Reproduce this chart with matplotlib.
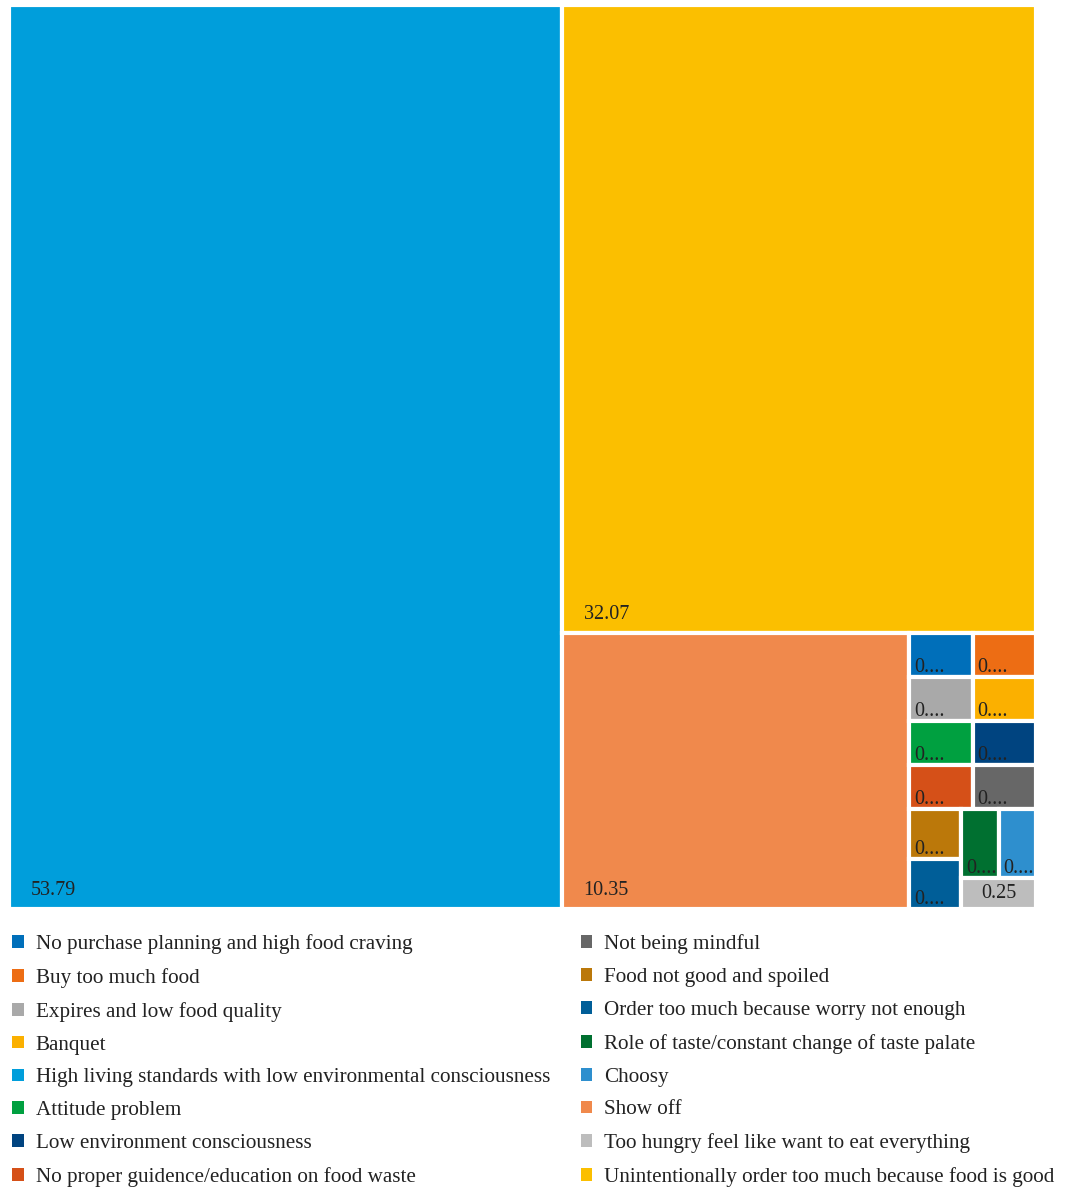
import matplotlib.pyplot as plt
from matplotlib.patches import Rectangle, Patch

categories = [
    'No purchase planning and high food craving',
    'Buy too much food',
    'Expires and low food quality',
    'Banquet',
    'High living standards with low environmental consciousness',
    'Attitude problem',
    'Low environment consciousness',
    'No proper guidence/education on food waste',
    'Not being mindful',
    'Food not good and spoiled',
    'Order too much because worry not enough',
    'Role of taste/constant change of taste palate',
    'Choosy',
    'Show off',
    'Too hungry feel like want to eat everything',
    'Unintentionally order too much because food is good',
]
values = [0.30, 0.30, 0.30, 0.30, 53.79, 0.30, 0.30, 0.30, 0.30,
          0.28, 0.28, 0.28, 0.28, 10.35, 0.25, 32.07]
colors = ['#006FBA', '#ED6D14', '#A9A9A9', '#FBB000', '#009EDB', '#00A040',
          '#004480', '#D55018', '#676767', '#BB780A', '#005E98', '#007030',
          '#2E8FCE', '#F0894C', '#BDBDBD', '#FBBF00']

FONT = 'Liberation Serif'


def worst(row, w):
    s = sum(row)
    return max(max(w * w * r / (s * s), s * s / (w * w * r)) for r in row)


def squarify(sizes, x, y, dx, dy):
    # classic squarified layout, y grows downwards
    total = sum(sizes)
    areas = [s * dx * dy / total for s in sizes]
    rects = []
    i = 0
    while i < len(areas):
        w = min(dx, dy)
        row = [areas[i]]
        j = i + 1
        while j < len(areas) and worst(row + [areas[j]], w) <= worst(row, w):
            row.append(areas[j])
            j += 1
        s = sum(row)
        if dx >= dy:
            cw = s / dy
            yy = y
            for a in row:
                h = a / cw
                rects.append((x, yy, cw, h))
                yy += h
            x += cw
            dx -= cw
        else:
            rh = s / dx
            xx = x
            for a in row:
                ww = a / rh
                rects.append((xx, y, ww, rh))
                xx += ww
            y += rh
            dy -= rh
        i = j
    return rects


W, H = 1027.0, 904.0
order = sorted(range(len(values)), key=lambda k: -values[k])
rects = squarify([values[k] for k in order], 0, 0, W, H)

fig = plt.figure(figsize=(10.71, 11.94), dpi=100)
ax = fig.add_axes([9 / 1071, 1 - 909 / 1194, W / 1071, H / 1194])
ax.set_xlim(0, W)
ax.set_ylim(H, 0)
ax.axis('off')

for k, (x, y, w, h) in zip(order, rects):
    ax.add_patch(Rectangle((x, y), w, h, facecolor=colors[k],
                           edgecolor='white', linewidth=3))
    v = values[k]
    if v >= 1:
        ax.text(x + 22, y + h - 14, f'{v:.2f}', ha='left', va='baseline',
                fontsize=14.5, family=FONT, color='#222222')
    elif w > 66:
        ax.text(x + w / 2, y + h / 2, f'{v:.2f}', ha='center', va='center',
                fontsize=14.5, family=FONT, color='#222222')
    else:
        ax.text(x + 5, y + h - 5, '0....', ha='left', va='baseline',
                fontsize=14.5, family=FONT, color='#222222')

handles = [Patch(facecolor=c, edgecolor='none') for c in colors]
fig.legend(handles, categories, loc='upper left',
           bbox_to_anchor=(12 / 1071, 1 - 934 / 1194), ncol=2,
           frameon=False, borderpad=0, borderaxespad=0,
           handlelength=0.56, handleheight=0.56, handletextpad=0.56,
           columnspacing=1.45, labelspacing=0.66,
           prop={'family': FONT, 'size': 15.2}, labelcolor='#222222')

fig.savefig('out.png', dpi=100)
